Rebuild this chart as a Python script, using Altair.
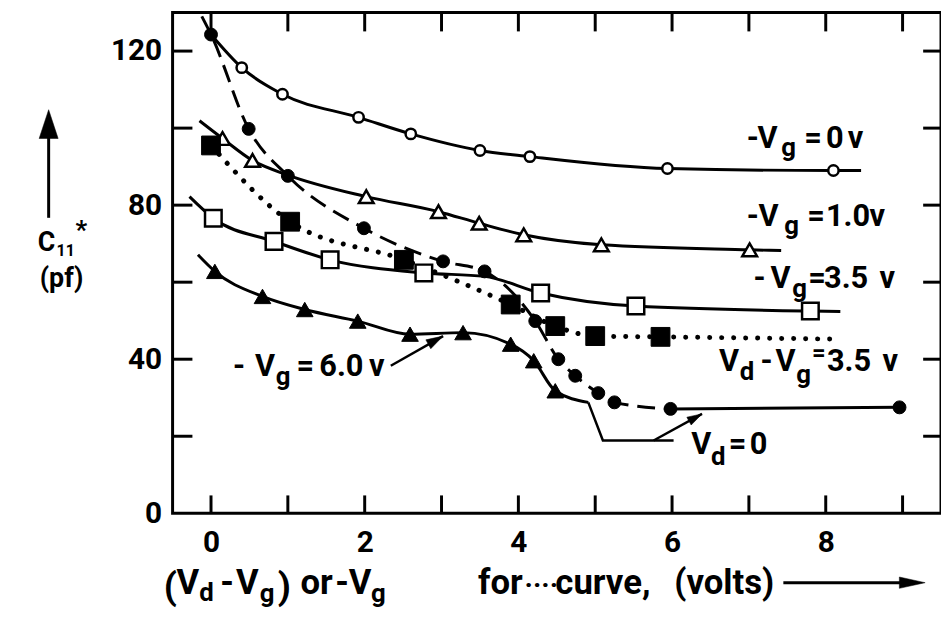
import altair as alt
import pandas as pd

FONT = "Roboto"
W, H = 775, 505          # plot area
OX, OY = 174, 10         # page position of plot origin

# ---------------- data ----------------
X_LABELS = [0, 2, 4, 6, 8]
Y_LABELS = [0, 40, 80, 120]
X_TICKS = [0, 1, 2, 3, 4, 5, 6, 7, 8, 9]
Y_TICKS = [20, 40, 60, 80, 100, 120]

# -Vg = 0 v  (open circles)
OC_X = [0.40, 0.93, 1.92, 2.60, 3.50, 4.15, 5.94, 8.10]
OC_Y = [115.7, 108.8, 102.8, 98.5, 94.2, 92.6, 89.5, 89.0]
OC_LX = [0.0, 0.40, 0.93, 1.92, 2.60, 3.50, 4.15, 5.94, 8.10, 8.46]
OC_LY = [124.3, 115.7, 108.8, 102.8, 98.5, 94.2, 92.6, 89.5, 89.0, 89.0]

# -Vg = 1.0 v  (open triangles)
OT_X = [0.15, 0.54, 2.02, 2.96, 3.49, 4.07, 5.08, 7.01]
OT_Y = [97.3, 91.6, 82.2, 78.3, 75.3, 72.3, 69.7, 68.4]
OT_LX = [-0.15, 0.15, 0.54, 1.00, 2.02, 2.96, 3.49, 4.07, 5.08, 7.01, 7.42]
OT_LY = [101.9, 97.3, 91.6, 87.8, 82.2, 78.3, 75.3, 72.3, 69.7, 68.4, 68.2]

# -Vg = 3.5 v  (open squares)
OS_X = [0.03, 0.82, 1.55, 2.77, 4.29, 5.53, 7.80]
OS_Y = [76.6, 70.6, 65.8, 62.4, 57.2, 53.8, 52.5]
OS_LX = [-0.28, 0.03, 0.82, 1.55, 2.77, 3.56, 4.29, 5.53, 7.80, 8.19]
OS_LY = [82.2, 76.6, 70.6, 65.8, 62.4, 61.5, 57.2, 53.8, 52.5, 52.4]

# -Vg = 6.0 v  (filled triangles)
FT_X = [0.05, 0.67, 1.22, 1.91, 2.59, 3.28, 3.90, 4.20, 4.48]
FT_Y = [62.8, 56.3, 52.9, 49.9, 46.5, 46.9, 43.9, 39.6, 31.8]
FT_LX = [-0.17, 0.05, 0.67, 1.22, 1.91, 2.59, 3.28, 3.90, 4.20, 4.48, 4.91]
FT_LY = [67.1, 62.8, 56.3, 52.9, 49.9, 46.5, 46.9, 43.9, 39.6, 31.8, 28.8]

# Vd = 0  (filled circles, dashed then solid)
FC_X = [0.0, 0.49, 1.0, 1.99, 3.02, 3.56, 4.22, 4.52, 4.74, 5.04, 5.25, 5.98, 8.96]
FC_Y = [124.3, 99.8, 87.6, 74.0, 65.4, 62.8, 49.9, 40.0, 35.7, 31.2, 28.8, 27.1, 27.5]
FC_DASH_X = [-0.12, 0.0, 0.49, 1.0, 1.99, 3.02, 3.56, 4.22, 4.52, 4.74, 5.04, 5.25, 5.98]
FC_DASH_Y = [129.0, 124.3, 99.8, 87.6, 74.0, 65.4, 62.8, 49.9, 40.0, 35.7, 31.2, 28.8, 27.1]
FC_SOLID_X = [5.98, 8.96]
FC_SOLID_Y = [27.1, 27.5]

# Vd - Vg = 3.5 v, x = -Vg (filled squares, dotted)
FS_X = [0.0, 1.03, 2.51, 3.90, 4.48, 5.00, 5.85]
FS_Y = [95.5, 75.7, 65.8, 54.2, 48.6, 46.0, 45.8]
FS_LX = [0.0, 1.03, 2.51, 3.90, 4.48, 5.00, 5.85, 8.17]
FS_LY = [95.5, 75.7, 65.8, 54.2, 48.6, 46.0, 45.8, 45.2]

# annotation leader lines (data coordinates)
A6_X = [2.34, 3.02]
A6_Y = [38.3, 46.0]
VD0_BR_X = [4.91, 5.10, 6.02]
VD0_BR_Y = [28.8, 18.9, 18.9]
VD0_AR_X = [5.76, 6.39]
VD0_AR_Y = [18.9, 25.8]

# ---------------- scales / axes ----------------
XMIN, XMAX, YMIN, YMAX = -0.5, 9.5, 0, 130
xs = alt.Scale(domain=[XMIN, XMAX], nice=False, zero=False)
ys = alt.Scale(domain=[YMIN, YMAX], nice=False, zero=False)
lab = dict(labelFont=FONT, labelFontSize=30, labelFontWeight="bold",
           labelColor="black", labelFlush=False, grid=False, ticks=False,
           domain=False, title=None)
xax = alt.Axis(values=X_LABELS, labelPadding=15, **lab)
yax = alt.Axis(values=Y_LABELS, labelPadding=11, **lab)


def X(f="x"):
    return alt.X(f"{f}:Q", scale=xs, axis=xax)


def Y(f="y"):
    return alt.Y(f"{f}:Q", scale=ys, axis=yax)


def df(xv, yv):
    return pd.DataFrame({"x": xv, "y": yv, "o": list(range(len(xv)))})


def line(xv, yv, width=3.0, **kw):
    return alt.Chart(df(xv, yv)).mark_line(
        color="black", strokeWidth=width, interpolate="monotone", **kw
    ).encode(x=X(), y=Y(), order="o:Q")


def pts(xv, yv, shape, size, filled, sw=2.5):
    return alt.Chart(df(xv, yv)).mark_point(
        shape=shape, size=size, filled=True, opacity=1, fillOpacity=1,
        fill="black" if filled else "white", stroke="black", strokeWidth=sw
    ).encode(x=X(), y=Y())


ONE = pd.DataFrame({"k": [0]})


def txt(s, px, py, size=31, align="left"):
    return alt.Chart(ONE).mark_text(
        text=s, font=FONT, fontSize=size, fontWeight="bold", align=align,
        baseline="alphabetic", color="black"
    ).encode(x=alt.value(px - OX), y=alt.value(py - OY))


def seg(x1, y1, x2, y2, width=3):
    """Short decoration segment in plot-pixel coordinates."""
    return alt.Chart(ONE).mark_rule(color="black", strokeWidth=width).encode(
        x=alt.value(x1), y=alt.value(y1), x2=alt.value(x2), y2=alt.value(y2))


def head(px=None, py=None, length=16, half=0.3, angle=0, data=None):
    path = f"M0,0 L{-half},1 L{half},1 Z"
    size = 4 * length * length
    mk = dict(shape=path, size=size, filled=True, fill="black", stroke="black",
              strokeWidth=0.5, opacity=1, angle=angle)
    if data is not None:
        return alt.Chart(df(*data)).mark_point(**mk).encode(x=X(), y=Y())
    return alt.Chart(ONE).mark_point(**mk).encode(
        x=alt.value(px - OX), y=alt.value(py - OY))


def sx(v):   # same linear mapping as the x scale
    return (v - XMIN) / (XMAX - XMIN) * W


def sy(v):   # same linear mapping as the y scale
    return H - (v - YMIN) / (YMAX - YMIN) * H


layers = []

# curves
layers.append(line(OC_LX, OC_LY))
layers.append(line(OT_LX, OT_LY))
layers.append(line(OS_LX, OS_LY))
layers.append(line(FT_LX, FT_LY))
layers.append(line(FC_DASH_X, FC_DASH_Y, strokeDash=[18, 9]))
layers.append(line(FC_SOLID_X, FC_SOLID_Y))
layers.append(line(FS_LX, FS_LY, width=5, strokeDash=[0.1, 12], strokeCap="round"))

# leader lines
layers.append(line(A6_X, A6_Y, width=2.5))
layers.append(alt.Chart(df(VD0_BR_X, VD0_BR_Y)).mark_line(
    color="black", strokeWidth=2.5).encode(x=X(), y=Y(), order="o:Q"))
layers.append(line(VD0_AR_X, VD0_AR_Y, width=2.5))
layers.append(head(length=17, half=0.3, angle=61, data=([A6_X[1]], [A6_Y[1]])))
layers.append(head(length=15, half=0.3, angle=61, data=([VD0_AR_X[1]], [VD0_AR_Y[1]])))

# markers
layers.append(pts(OC_X, OC_Y, "circle", 110, False))
layers.append(pts(OT_X, OT_Y, "triangle-up", 220, False))
layers.append(pts(OS_X, OS_Y, "square", 280, False))
layers.append(pts(FT_X, FT_Y, "triangle-up", 280, True, sw=1))
layers.append(pts(FC_X, FC_Y, "circle", 170, True, sw=1))
layers.append(pts(FS_X, FS_Y, "square", 360, True, sw=1))

# inward frame ticks on all four sides
for t in X_TICKS:
    layers.append(seg(sx(t), H, sx(t), H - 18))
    layers.append(seg(sx(t), 0, sx(t), 19))
for t in Y_TICKS:
    layers.append(seg(0, sy(t), 20, sy(t)))
    layers.append(seg(W - 18, sy(t), W, sy(t)))

# curve labels
ann = [
    ("-", 753, 147, 31), ("V", 764, 147, 31), ("g", 788, 155, 26), ("=", 811, 147, 31),
    ("0", 833, 147, 31), ("v", 855, 147, 31),
    ("-", 753, 225, 31), ("V", 765, 225, 31), ("g", 791, 233, 26), ("=", 814, 225, 31),
    ("1.0", 833, 225, 31), ("v", 877, 225, 31),
    ("-", 760, 288, 31), ("V", 777, 288, 31), ("g", 799, 297, 26), ("=", 815, 288, 31),
    ("3.5", 831, 288, 31), ("v", 887, 288, 31),
    ("V", 725, 372, 31), ("d", 746, 381, 26), ("-", 767, 372, 31), ("V", 782, 372, 31),
    ("g", 803, 384, 26), ("=", 819, 361, 24), ("3.5", 834, 372, 31), ("v", 890, 372, 31),
    ("V", 697, 455, 31), ("d", 717, 466, 26), ("=", 735, 455, 31), ("0", 756, 455, 31),
    ("-", 235, 377, 31), ("V", 257, 377, 31), ("g", 278, 386, 26), ("=", 299, 377, 31),
    ("6.0", 322, 377, 31), ("v", 372, 377, 31),
]
for s, px, py, size in ann:
    layers.append(txt(s, px, py, size))

# y-axis title
layers.append(seg(49 - OX, 130 - OY, 49 - OX, 217 - OY))
layers.append(head(49, 108, length=29, half=0.33, angle=0))
layers.append(txt("C", 38, 250, 27))
layers.append(txt("11", 57, 256, 16))
layers.append(txt("*", 76, 238, 26))
layers.append(txt("(pf)", 40, 287, 27))

# x-axis title, piece by piece
title_pieces = [
    ("(", 165, 601, 38), ("V", 178, 596, 35), ("d", 201, 603, 26),
    ("-", 222, 596, 35), ("V", 238, 596, 35), ("g", 262, 604, 26), (")", 280, 601, 38),
    ("or", 303, 596, 35), ("-V", 338, 596, 35), ("g", 374, 604, 26),
    ("for", 482, 596, 35), ("\u00b7\u00b7\u00b7\u00b7", 529, 596, 28),
    ("curve,", 560, 596, 35), ("(volts)", 680, 596, 35),
]
for s, px, py, size in title_pieces:
    layers.append(txt(s, px, py, size))
layers.append(seg(790 - OX, 585 - OY, 910 - OX, 585 - OY))
layers.append(head(933, 585, length=26, half=0.22, angle=90))

chart = alt.layer(*layers).properties(
    width=W, height=H, autosize="none",
    padding={"left": OX - 8, "top": OY - 8, "right": 0, "bottom": 100},
    background="white",
).configure_view(stroke="black", strokeWidth=3)

chart.save("out.html", embed_options={"renderer": "svg", "actions": False})
